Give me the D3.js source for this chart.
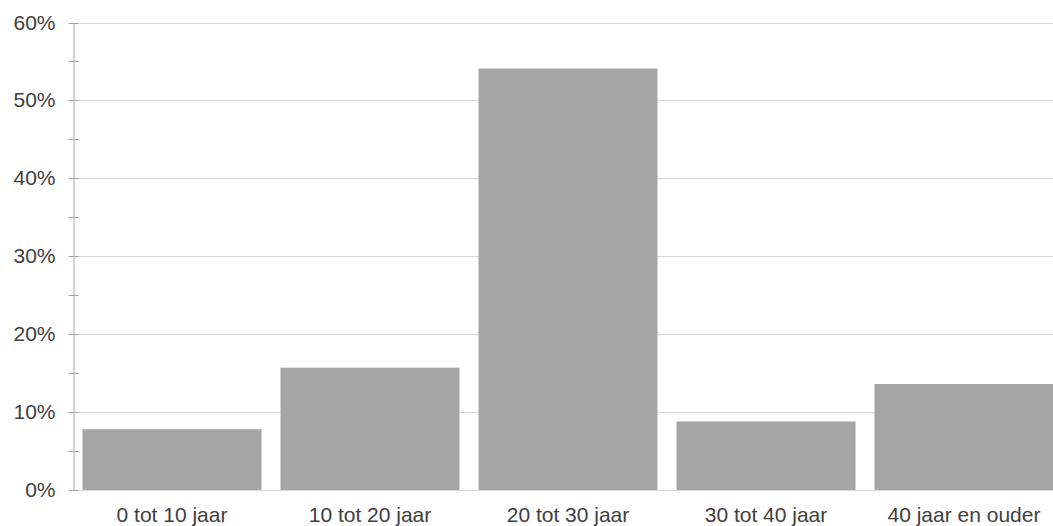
<!DOCTYPE html>
<html><head><meta charset="utf-8">
<script src="https://cdn.jsdelivr.net/npm/d3@7"></script>
<style>
body{margin:0;background:#fff;}
svg{display:block;font-family:"Liberation Sans",Arial,sans-serif;}
</style></head>
<body>
<svg id="c" width="1053" height="526"></svg>
<script>
const categories = ["0 tot 10 jaar","10 tot 20 jaar","20 tot 30 jaar","30 tot 40 jaar","40 jaar en ouder"];
const values = [0.078, 0.157, 0.541, 0.088, 0.136];
const yTicks = [0,0.1,0.2,0.3,0.4,0.5,0.6];
const yMinor = [0.05,0.15,0.25,0.35,0.45,0.55];

const svg = d3.select("#c");
const x0 = 73, x1 = 1063, yTop = 22.5, yBot = 490;
const x = d3.scaleBand().domain(categories).range([x0,x1]).paddingInner(0.096).paddingOuter(0.048);
const y = d3.scaleLinear().domain([0,0.6]).range([yBot,yTop]);

// gridlines
svg.append("g").selectAll("line").data(yTicks.slice(1)).join("line")
  .attr("x1",x0).attr("x2",1053).attr("y1",d=>Math.round(y(d))+0.5).attr("y2",d=>Math.round(y(d))+0.5)
  .attr("stroke","#d9d9d9").attr("stroke-width",1);

// bars
svg.append("g").selectAll("rect").data(values).join("rect")
  .attr("x",(d,i)=>x(categories[i])).attr("width",x.bandwidth())
  .attr("y",d=>y(d)).attr("height",d=>yBot-y(d))
  .attr("fill","#a5a5a5");

// bottom axis line
svg.append("line").attr("x1",x0).attr("x2",1053).attr("y1",yBot+0.5).attr("y2",yBot+0.5)
  .attr("stroke","#d9d9d9");

// y axis
const yAxis = d3.axisLeft(y).tickValues(yTicks).tickFormat(d3.format(".0%")).tickSizeInner(5).tickSizeOuter(0).tickPadding(13);
const ga = svg.append("g").attr("transform",`translate(${x0+0.5},0)`).call(yAxis);
ga.select(".domain").attr("stroke","#a6a6a6");
ga.selectAll(".tick line").attr("stroke","#a6a6a6").attr("x1",5).attr("x2",-5);
ga.selectAll(".tick text").attr("font-size",21).attr("fill","#404040").attr("font-family","Liberation Sans, Arial, sans-serif");
ga.selectAll(".tick").attr("transform",d=>`translate(0,${Math.round(y(d))+0.5})`);
svg.append("g").selectAll("line").data(yMinor).join("line")
  .attr("x1",x0-4.5).attr("x2",x0+5.5).attr("y1",d=>Math.round(y(d))+0.5).attr("y2",d=>Math.round(y(d))+0.5)
  .attr("stroke","#a6a6a6");

// x labels
svg.append("g").selectAll("text").data(categories).join("text")
  .attr("x",d=>x(d)+x.bandwidth()/2).attr("y",522)
  .attr("text-anchor","middle").attr("font-size",21).attr("fill","#404040")
  .text(d=>d);
</script>
</body></html>
